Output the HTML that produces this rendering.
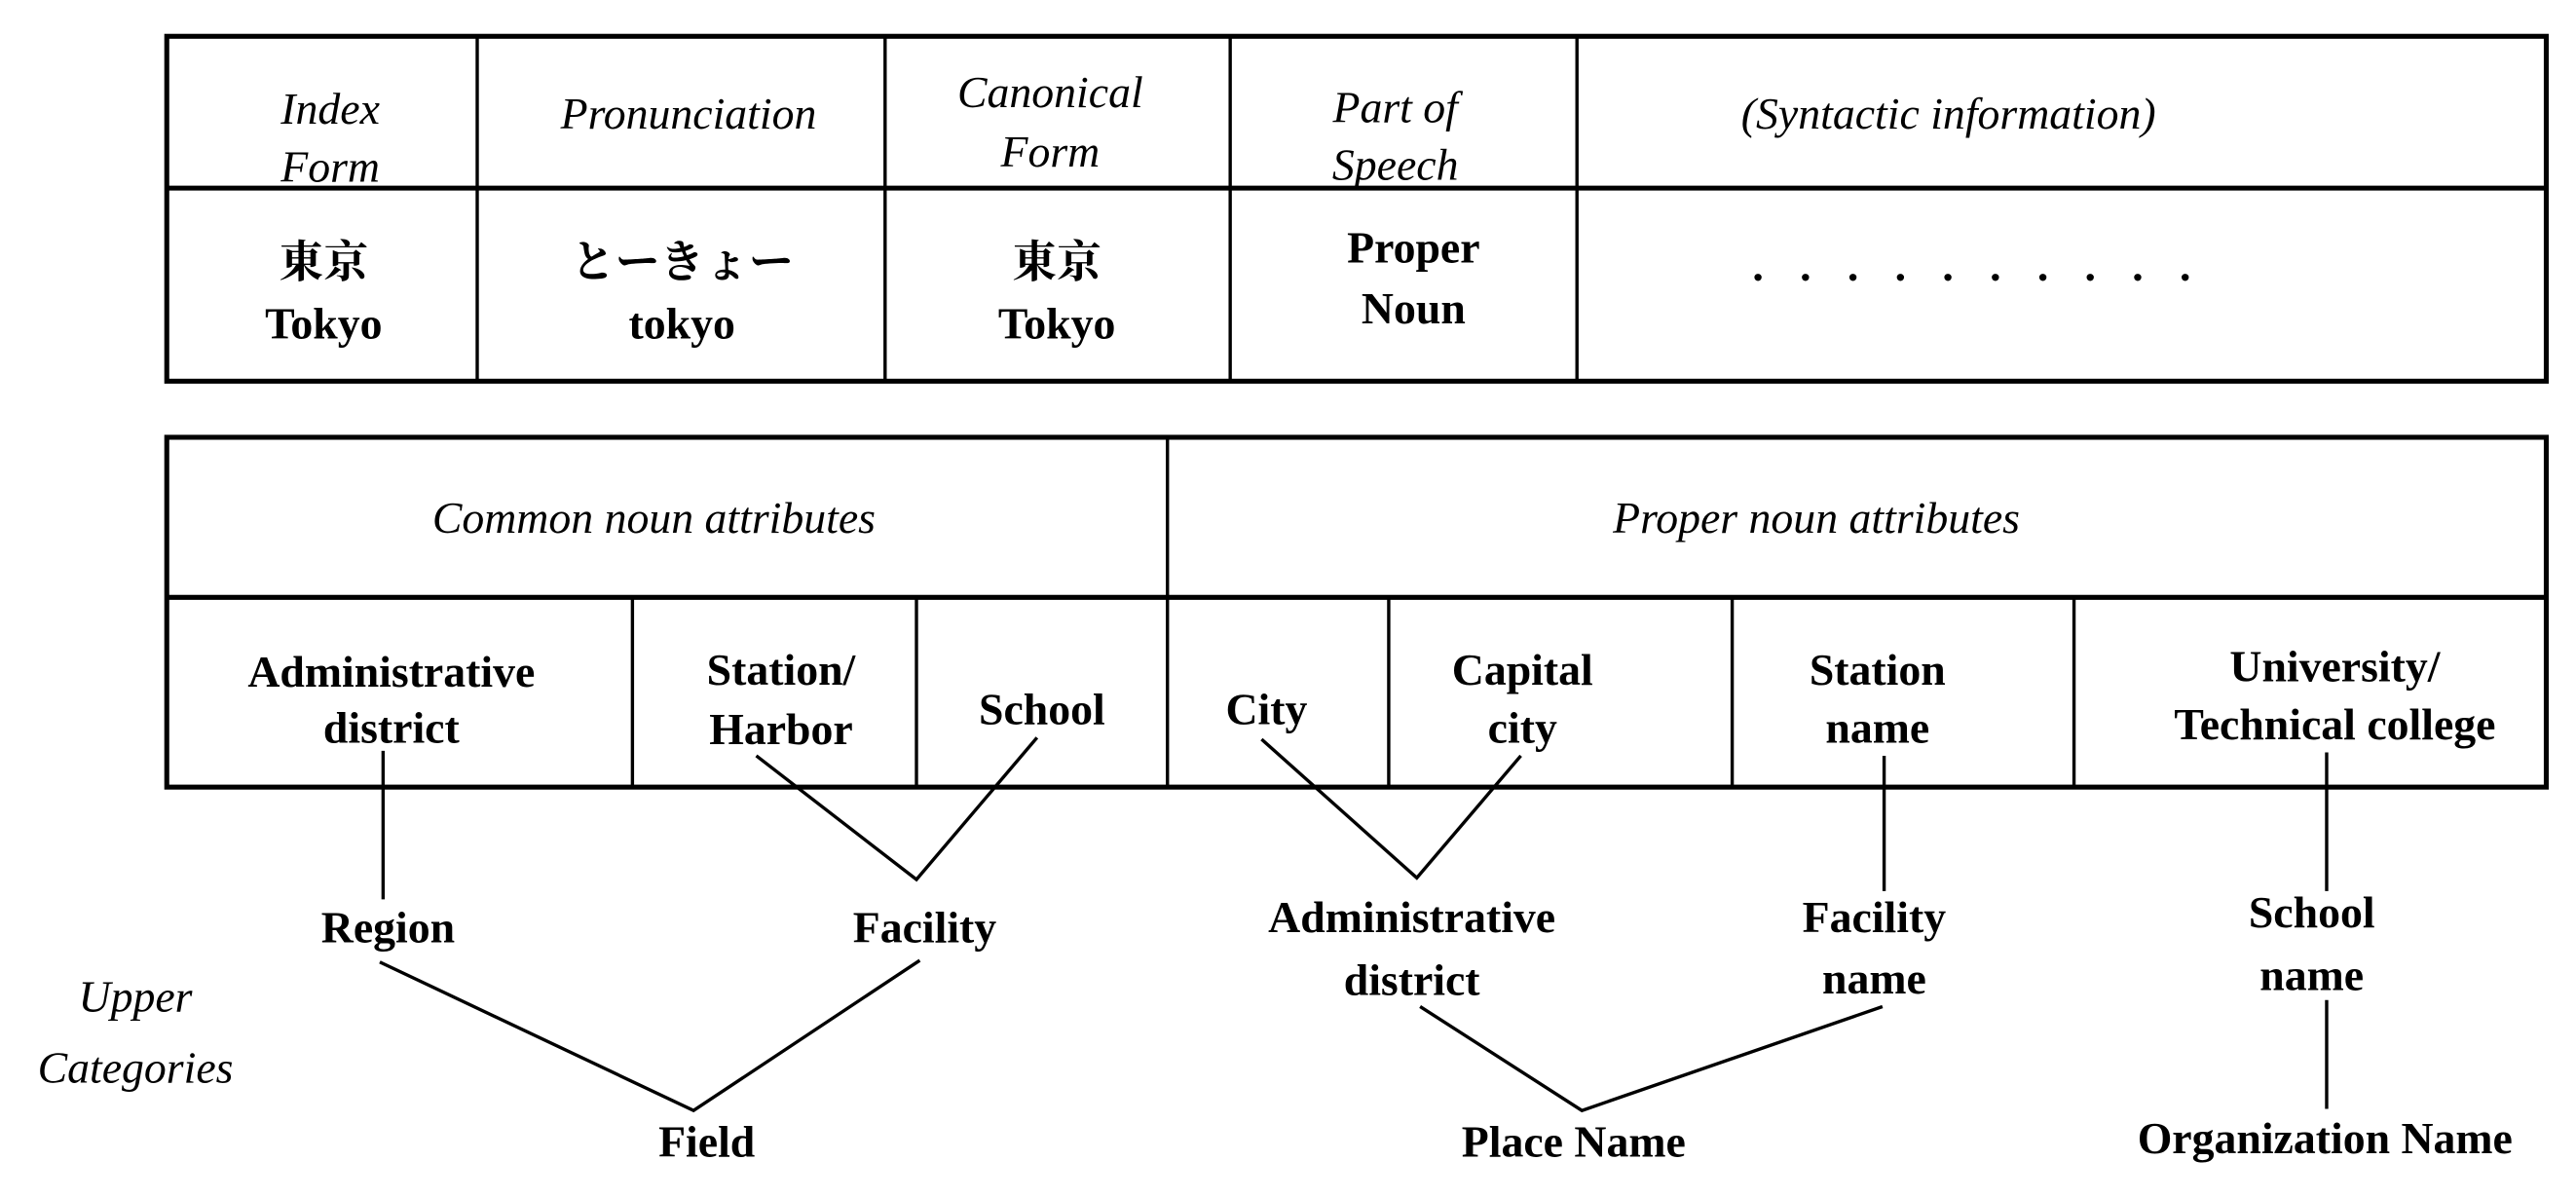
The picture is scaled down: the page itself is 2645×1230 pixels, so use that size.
<!DOCTYPE html>
<html><head><meta charset="utf-8"><style>
html,body{margin:0;padding:0;background:#fff;}
svg{display:block;}
text{font-family:"Liberation Serif","Noto Serif CJK SC",serif;font-size:27px;fill:#000;text-anchor:middle;}
.i{font-style:italic;}
.b{font-weight:bold;}
</style></head><body>
<svg width="2645" height="1230" viewBox="0 0 1560 726" preserveAspectRatio="none" xmlns="http://www.w3.org/2000/svg">
<g fill="none" stroke="#000">
<rect x="101" y="22" width="1441" height="209" stroke-width="3"/>
<line x1="101" y1="114" x2="1542" y2="114" stroke-width="3"/>
<g stroke-width="2">
<line x1="289" y1="22" x2="289" y2="231"/>
<line x1="536" y1="22" x2="536" y2="231"/>
<line x1="745" y1="22" x2="745" y2="231"/>
<line x1="955" y1="22" x2="955" y2="231"/>
</g>
<rect x="101" y="265" width="1441" height="212" stroke-width="3"/>
<line x1="101" y1="362" x2="1542" y2="362" stroke-width="3"/>
<g stroke-width="2">
<line x1="707" y1="265" x2="707" y2="477"/>
<line x1="383" y1="362" x2="383" y2="477"/>
<line x1="555" y1="362" x2="555" y2="477"/>
<line x1="841" y1="362" x2="841" y2="477"/>
<line x1="1049" y1="362" x2="1049" y2="477"/>
<line x1="1256" y1="362" x2="1256" y2="477"/>
</g>
<g stroke-width="2">
<line x1="232" y1="455" x2="232" y2="545"/>
<polyline points="458,458 555,533 628,447"/>
<polyline points="764,448 858,532 921,458"/>
<line x1="1141" y1="458" x2="1141" y2="540"/>
<line x1="1409" y1="456" x2="1409" y2="540"/>
<polyline points="230,583 420,673 557,582"/>
<polyline points="860,610 958,673 1140,610"/>
<line x1="1409" y1="606" x2="1409" y2="672"/>
</g>
</g>
<g class="i">
<text class="i" x="200" y="75">Index</text>
<text class="i" x="200" y="110">Form</text>
<text class="i" x="417" y="78">Pronunciation</text>
<text class="i" x="636" y="65">Canonical</text>
<text class="i" x="636" y="101">Form</text>
<text class="i" x="845" y="74">Part of</text>
<text class="i" x="845" y="109">Speech</text>
<text class="i" x="1180" y="78">(Syntactic information)</text>
<text class="i" x="396" y="323">Common noun attributes</text>
<text class="i" x="1100" y="323">Proper noun attributes</text>
<text class="i" x="82" y="613">Upper</text>
<text class="i" x="82" y="656">Categories</text>
</g>
<g class="b">
<text class="b" x="196" y="168">東京</text>
<text class="b" x="196" y="205">Tokyo</text>
<text class="b" x="413" y="168">とーきょー</text>
<text class="b" x="413" y="205">tokyo</text>
<text class="b" x="640" y="168">東京</text>
<text class="b" x="640" y="205">Tokyo</text>
<text class="b" x="856" y="159">Proper</text>
<text class="b" x="856" y="196">Noun</text>
<text class="b" x="1205" y="170" style="letter-spacing:22px">..........</text>
<text class="b" x="237" y="416">Administrative</text>
<text class="b" x="237" y="450">district</text>
<text class="b" x="473" y="415">Station/</text>
<text class="b" x="473" y="451">Harbor</text>
<text class="b" x="631" y="439">School</text>
<text class="b" x="767" y="439">City</text>
<text class="b" x="922" y="415">Capital</text>
<text class="b" x="922" y="450">city</text>
<text class="b" x="1137" y="415">Station</text>
<text class="b" x="1137" y="450">name</text>
<text class="b" x="1414" y="413">University/</text>
<text class="b" x="1414" y="448">Technical college</text>
<text class="b" x="235" y="571">Region</text>
<text class="b" x="560" y="571">Facility</text>
<text class="b" x="855" y="565">Administrative</text>
<text class="b" x="855" y="603">district</text>
<text class="b" x="1135" y="565">Facility</text>
<text class="b" x="1135" y="602">name</text>
<text class="b" x="1400" y="562">School</text>
<text class="b" x="1400" y="600">name</text>
<text class="b" x="428" y="701">Field</text>
<text class="b" x="953" y="701">Place Name</text>
<text class="b" x="1408" y="699">Organization Name</text>
</g>
</svg>
</body></html>
